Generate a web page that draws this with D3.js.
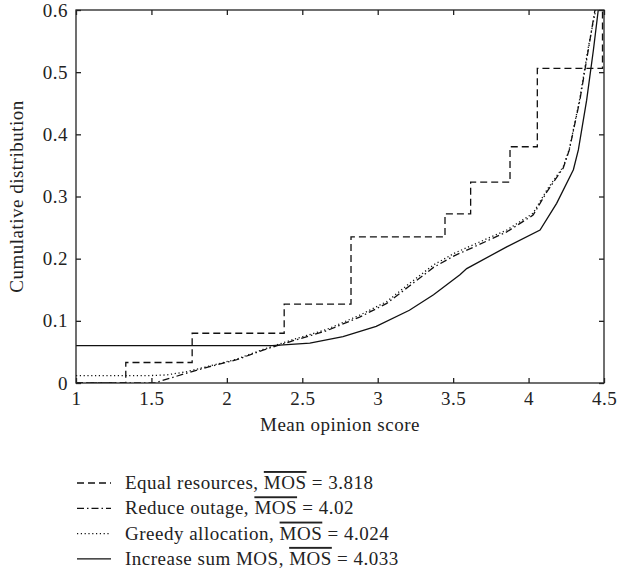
<!DOCTYPE html>
<meta charset="utf-8">
<style>
body { margin: 0; background: #fff; }
svg text { font-family: "Liberation Serif", "DejaVu Serif", serif !important; fill: #222; letter-spacing: 0.5px; }
.axis line { stroke: #222; stroke-width: 1.3px; }
.curve { fill: none; stroke: #111; stroke-width: 1.3px; }
</style>
<body>
<script src="https://d3js.org/d3.v7.min.js"></script>
<script>

// chart data
var xTicks = [1, 1.5, 2, 2.5, 3, 3.5, 4, 4.5];
var yTicks = [0, 0.1, 0.2, 0.3, 0.4, 0.5, 0.6];

// Equal resources: step CDF (x where the step happens, new level)
var equalX = [1, 1.33, 1.77, 2.38, 2.823, 3.446, 3.616, 3.877, 4.058, 4.49];
var equalY = [0, 0.033, 0.08, 0.127, 0.235, 0.272, 0.323, 0.38, 0.506, 0.65];

var reduceX = [1, 1.52, 1.73, 1.88, 2.06, 2.24, 2.44, 2.66, 2.88, 3.06, 3.21, 3.37, 3.51, 3.63, 3.855, 4.03, 4.12, 4.23, 4.27, 4.34, 4.396, 4.44];
var reduceY = [0, 0, 0.0156, 0.026, 0.037, 0.053, 0.068, 0.084, 0.106, 0.128, 0.156, 0.186, 0.205, 0.218, 0.243, 0.27, 0.307, 0.346, 0.375, 0.455, 0.536, 0.6];

var greedyX = [1, 1.5, 1.6, 1.73, 1.88, 2.06, 2.24, 2.44, 2.66, 2.88, 3.06, 3.21, 3.37, 3.51, 3.63, 3.855, 4.03, 4.12, 4.23, 4.27, 4.34, 4.396, 4.445];
var greedyY = [0.012, 0.012, 0.013, 0.018, 0.027, 0.038, 0.054, 0.07, 0.086, 0.109, 0.131, 0.16, 0.19, 0.209, 0.222, 0.246, 0.273, 0.31, 0.348, 0.376, 0.458, 0.54, 0.6];

var sumX = [1, 2.3, 2.55, 2.77, 2.99, 3.21, 3.37, 3.545, 3.59, 3.855, 4.076, 4.186, 4.297, 4.33, 4.385, 4.43, 4.462];
var sumY = [0.06, 0.06, 0.064, 0.0745, 0.091, 0.117, 0.142, 0.174, 0.184, 0.219, 0.246, 0.289, 0.343, 0.375, 0.455, 0.536, 0.6];

var legendNames = ["Equal resources, ", "Reduce outage, ", "Greedy allocation, ", "Increase sum MOS, "];
var legendMos = ["3.818", "4.02", "4.024", "4.033"];
var dashes = ["7,4", "7,3,1.5,3", "1.2,2.6", null];

var margin = {top: 10, right: 15, bottom: 192, left: 76},
    width = 619 - margin.left - margin.right,
    height = 575 - margin.top - margin.bottom;

var fontSize = "19px";

var x = d3.scaleLinear().domain([1, 4.5]).range([0, width]);
var y = d3.scaleLinear().domain([0, 0.6]).range([height, 0]);

var svg = d3.select("body").append("svg")
    .attr("width", 619)
    .attr("height", 575)
  .append("g")
    .attr("transform", "translate(" + margin.left + "," + margin.top + ")");

svg.append("clipPath").attr("id", "clip")
  .append("rect").attr("width", width).attr("height", height);

function zip(xs, ys) {
  return xs.map(function(d, i) { return [d, ys[i]]; });
}

var line = d3.line()
    .x(function(d) { return x(d[0]); })
    .y(function(d) { return y(d[1]); });

var stepLine = d3.line()
    .curve(d3.curveStepAfter)
    .x(function(d) { return x(d[0]); })
    .y(function(d) { return y(d[1]); });

var series = [
  {data: zip(equalX, equalY), gen: stepLine},
  {data: zip(reduceX, reduceY), gen: line},
  {data: zip(greedyX, greedyY), gen: line},
  {data: zip(sumX, sumY), gen: line}
];

var plot = svg.append("g").attr("clip-path", "url(#clip)");
series.forEach(function(s, i) {
  plot.append("path")
      .datum(s.data)
      .attr("class", "curve")
      .attr("stroke-dasharray", dashes[i])
      .attr("d", s.gen);
});

// axes, ticks pointing inward on all four sides
svg.append("g").attr("class", "axis")
    .attr("transform", "translate(0," + height + ")")
    .call(d3.axisBottom(x).tickValues(xTicks).tickSizeInner(-5).tickSizeOuter(0).tickPadding(9).tickFormat(d3.format("")));
svg.append("g").attr("class", "axis")
    .call(d3.axisLeft(y).tickValues(yTicks).tickSizeInner(-5).tickSizeOuter(0).tickPadding(8).tickFormat(d3.format("")));
svg.append("g").attr("class", "axis")
    .call(d3.axisTop(x).tickValues(xTicks).tickSizeInner(-5).tickSizeOuter(0).tickFormat(""));
svg.append("g").attr("class", "axis")
    .attr("transform", "translate(" + width + ",0)")
    .call(d3.axisRight(y).tickValues(yTicks).tickSizeInner(-5).tickSizeOuter(0).tickFormat(""));

svg.selectAll(".axis").attr("font-family", null).attr("font-size", null);
svg.selectAll(".axis text").style("font-size", fontSize).attr("fill", "#222");
svg.selectAll(".axis .domain").remove();
svg.append("rect")
    .attr("width", width).attr("height", height)
    .attr("fill", "none").attr("stroke", "#222").attr("stroke-width", 1.3);

// axis titles
svg.append("text")
    .attr("x", width / 2).attr("y", height + 48)
    .attr("text-anchor", "middle")
    .style("font-size", fontSize)
    .text("Mean opinion score");

svg.append("text")
    .attr("transform", "translate(-53," + (height / 2) + ") rotate(-90)")
    .attr("text-anchor", "middle")
    .style("font-size", fontSize)
    .text("Cumulative distribution");

// legend
var legend = svg.append("g").attr("transform", "translate(1," + (height + 100) + ")");
legendNames.forEach(function(name, i) {
  var row = legend.append("g").attr("transform", "translate(0," + (i * 25.3) + ")");
  row.append("line")
      .attr("x1", 0).attr("x2", 34).attr("y1", 0).attr("y2", 0)
      .attr("stroke", "#111").attr("stroke-width", 1.3)
      .attr("stroke-dasharray", dashes[i]);
  var t = row.append("text")
      .attr("x", 48).attr("y", 6)
      .style("font-size", fontSize);
  t.append("tspan").text(name);
  t.append("tspan").style("text-decoration", "overline").text("MOS");
  t.append("tspan").text(" = " + legendMos[i]);
});

</script>
</body>
